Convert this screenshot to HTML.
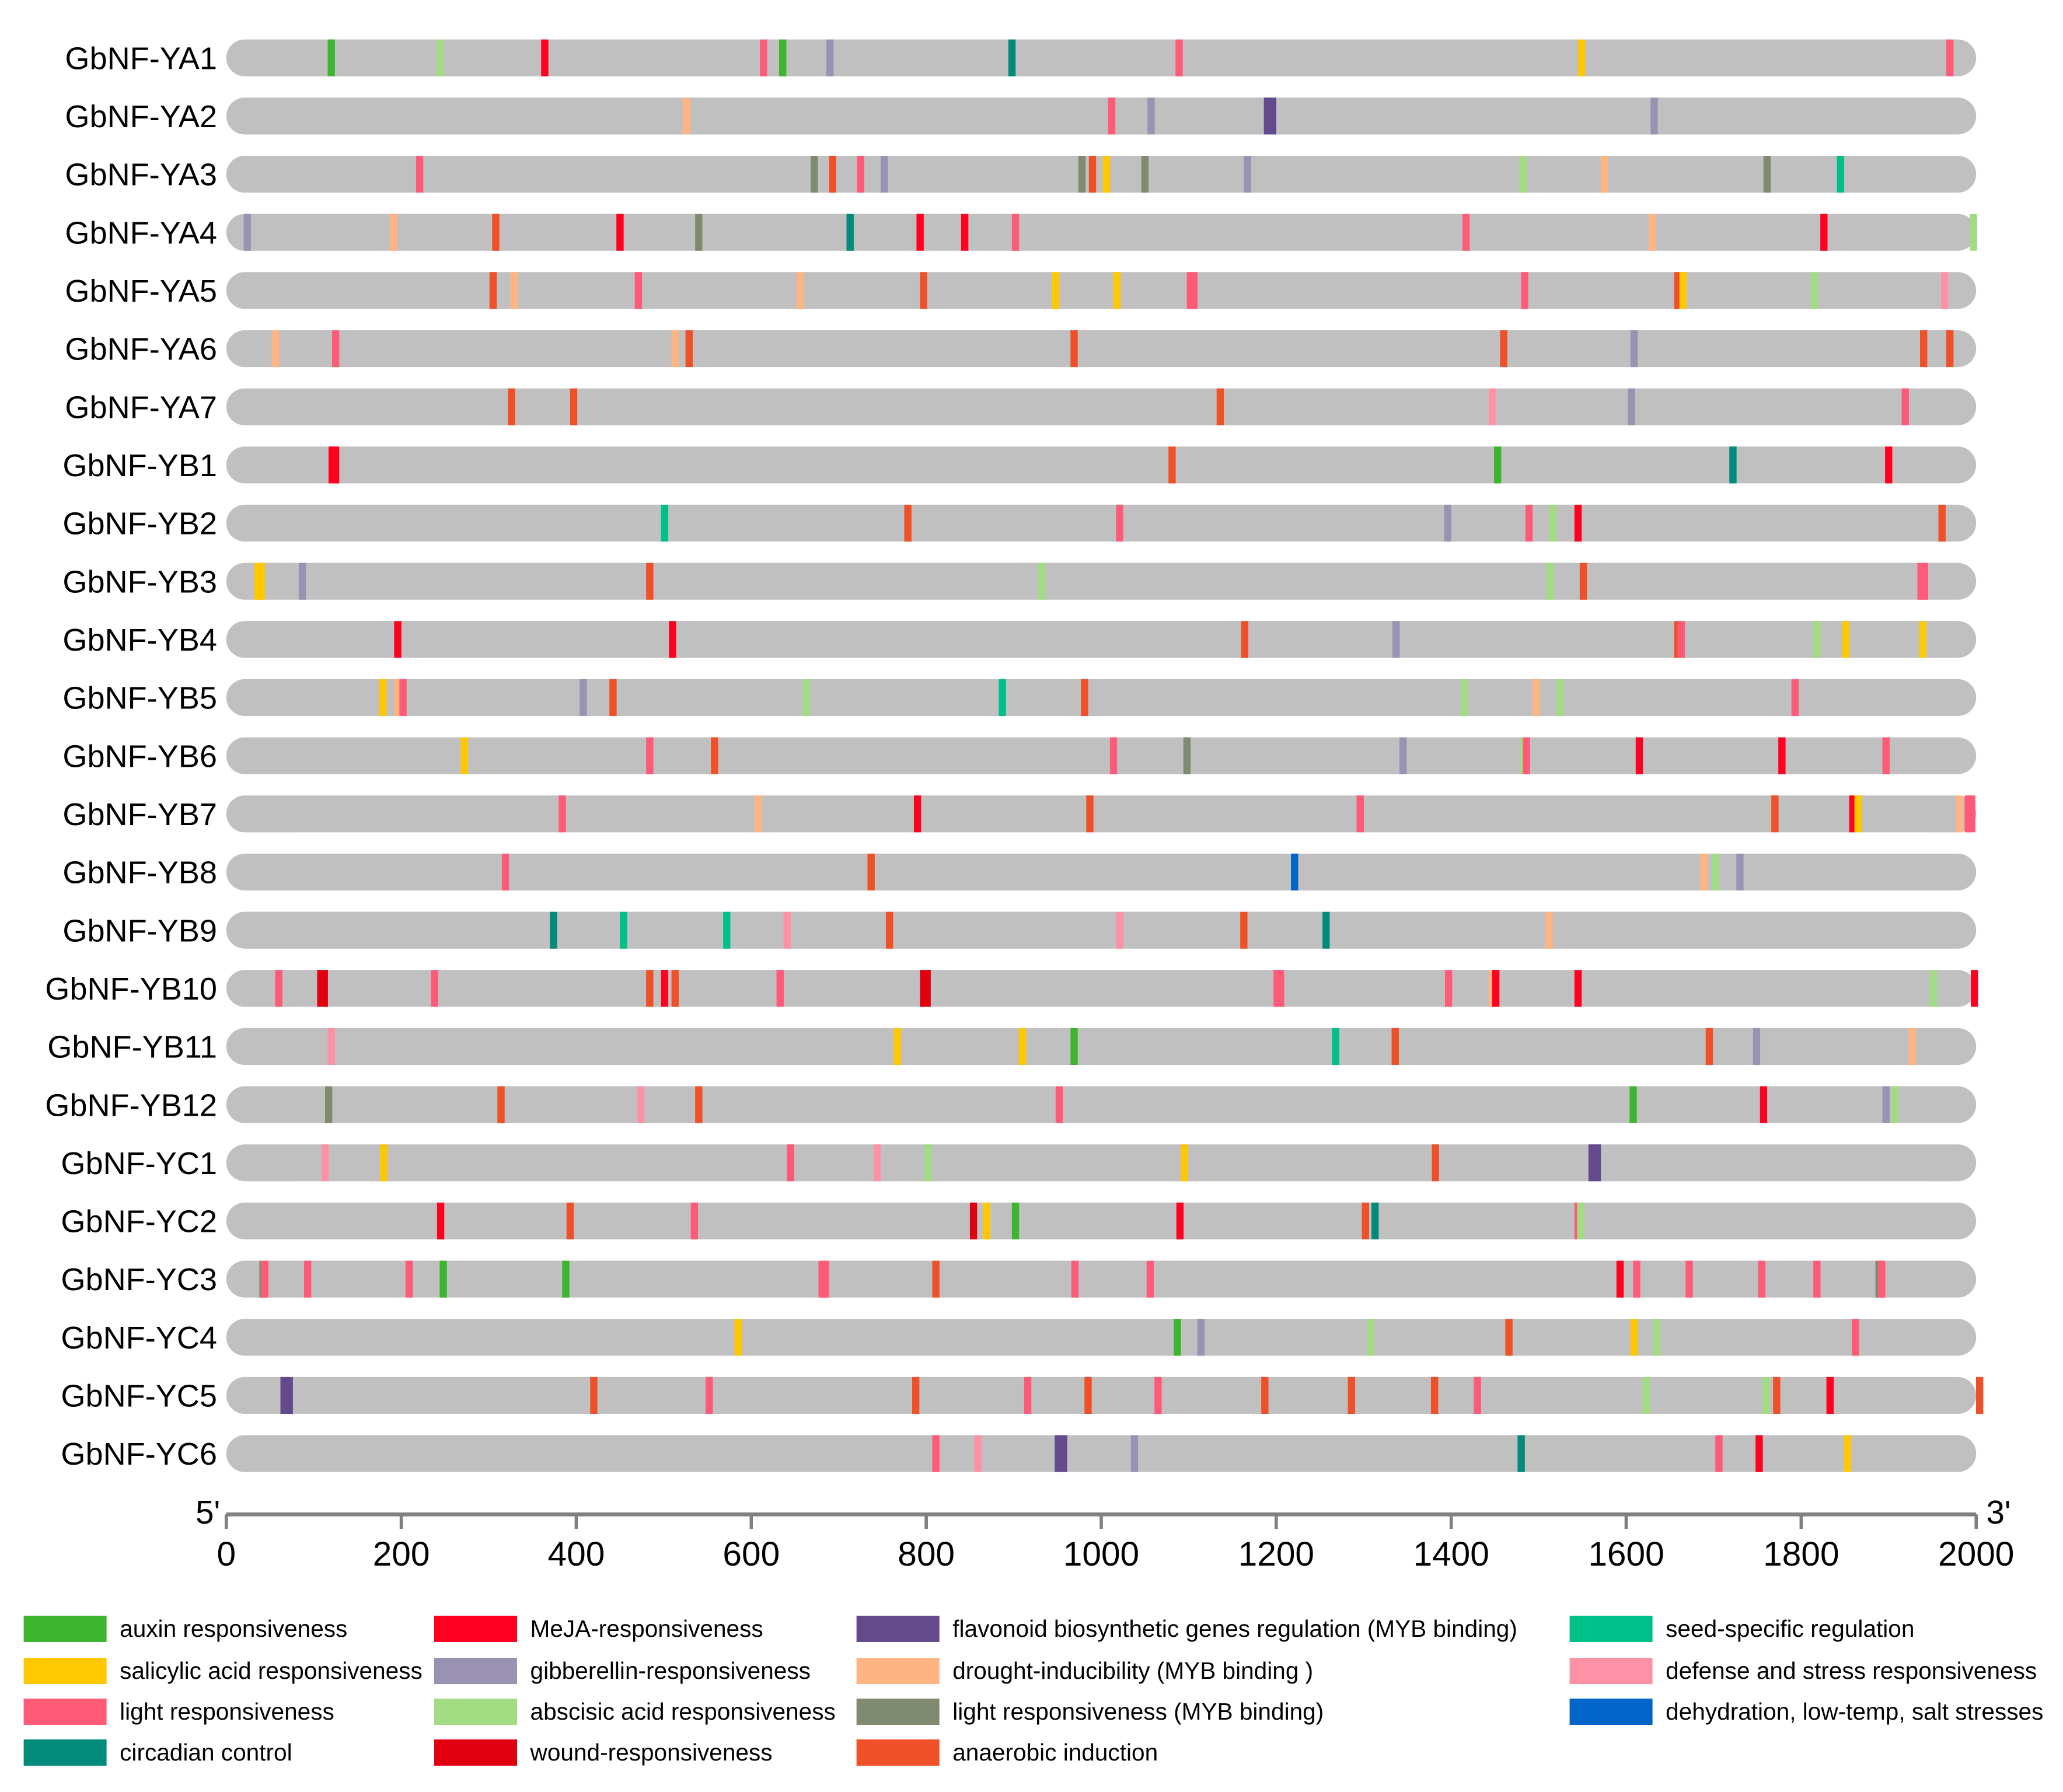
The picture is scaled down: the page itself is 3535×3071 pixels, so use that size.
<!DOCTYPE html>
<html><head><meta charset="utf-8">
<style>
html,body{margin:0;padding:0;background:#fff;}
svg{display:block;font-family:"Liberation Sans",Arial,sans-serif;}
</style></head>
<body>
<svg id="chart" width="3535" height="3071" viewBox="0 0 1568 1362" preserveAspectRatio="none" xmlns="http://www.w3.org/2000/svg">
<g id="rows"></g>
<g id="axis"></g>
<g id="legend"></g>
</svg>
<script>
const genes = ["GbNF-YA1","GbNF-YA2","GbNF-YA3","GbNF-YA4","GbNF-YA5","GbNF-YA6","GbNF-YA7","GbNF-YB1","GbNF-YB2","GbNF-YB3","GbNF-YB4","GbNF-YB5","GbNF-YB6","GbNF-YB7","GbNF-YB8","GbNF-YB9","GbNF-YB10","GbNF-YB11","GbNF-YB12","GbNF-YC1","GbNF-YC2","GbNF-YC3","GbNF-YC4","GbNF-YC5","GbNF-YC6"];
const typeKeys = ["a","s","l","c","m","g","b","w","f","d","y","n","e","p","h"];
const typeLabels = ["auxin responsiveness","salicylic acid responsiveness","light responsiveness","circadian control","MeJA-responsiveness","gibberellin-responsiveness","abscisic acid responsiveness","wound-responsiveness","flavonoid biosynthetic genes regulation (MYB binding)","drought-inducibility (MYB binding )","light responsiveness (MYB binding)","anaerobic induction","seed-specific regulation","defense and stress responsiveness","dehydration, low-temp, salt stresses"];
const typeColors = ["#3db52e","#ffc800","#ff5a78","#008b7a","#ff0020","#9a92b2","#a2dc82","#e00010","#624a8c","#ffb482","#808a70","#f05028","#00c08a","#ff91a6","#0064c8"];
const xTicks = [0,200,400,600,800,1000,1200,1400,1600,1800,2000];
const elements = [
[[120,"a"],[244,"b"],[364,"m"],[614,"l"],[636,"a"],[690,"g"],[898,"c"],[1089,"l"],[1549,"s"],[1970,"l"]],
[[526,"d"],[1012,"l"],[1057,"g"],[1190,"f"],[1196,"f"],[1632,"g"]],
[[221,"l"],[672,"y"],[693,"n"],[725,"l"],[752,"g"],[978,"y"],[990,"n"],[1006,"s"],[1050,"y"],[1167,"g"],[1482,"b"],[1575,"d"],[1761,"y"],[1845,"e"]],
[[24,"g"],[191,"d"],[308,"n"],[450,"m"],[540,"y"],[713,"c"],[793,"m"],[844,"m"],[902,"l"],[1417,"l"],[1630,"d"],[1826,"m"],[1997,"b"]],
[[305,"n"],[329,"d"],[471,"l"],[656,"d"],[797,"n"],[948,"s"],[1018,"s"],[1102,"l"],[1106,"l"],[1484,"l"],[1659,"n"],[1665,"s"],[1815,"b"],[1964,"p"]],
[[56,"d"],[125,"l"],[513,"d"],[529,"n"],[969,"n"],[1460,"n"],[1609,"g"],[1940,"n"],[1970,"n"]],
[[326,"n"],[397,"n"],[1136,"n"],[1447,"p"],[1606,"g"],[1919,"l"]],
[[121,"m"],[125,"m"],[1081,"n"],[1453,"a"],[1722,"c"],[1900,"m"]],
[[501,"e"],[779,"n"],[1021,"l"],[1396,"g"],[1489,"l"],[1516,"b"],[1545,"m"],[1961,"n"]],
[[36,"s"],[40,"s"],[87,"g"],[484,"n"],[932,"b"],[1513,"b"],[1551,"n"],[1937,"l"],[1941,"l"]],
[[196,"m"],[510,"m"],[1164,"n"],[1337,"g"],[1659,"n"],[1663,"l"],[1818,"b"],[1851,"s"],[1939,"s"]],
[[179,"s"],[196,"d"],[202,"l"],[408,"g"],[442,"n"],[663,"b"],[887,"e"],[981,"n"],[1415,"b"],[1497,"d"],[1524,"b"],[1793,"l"]],
[[272,"s"],[484,"l"],[558,"n"],[1014,"l"],[1098,"y"],[1345,"g"],[1483,"b"],[1486,"l"],[1615,"m"],[1778,"m"],[1897,"l"]],
[[384,"l"],[608,"d"],[790,"m"],[987,"n"],[1296,"l"],[1770,"n"],[1859,"m"],[1865,"s"],[1981,"d"],[1991,"l"],[1995,"l"]],
[[319,"l"],[737,"n"],[1221,"h"],[1689,"d"],[1702,"b"],[1730,"g"]],
[[374,"c"],[454,"e"],[572,"e"],[641,"p"],[758,"n"],[1021,"p"],[1163,"n"],[1257,"c"],[1512,"d"]],
[[60,"l"],[108,"w"],[112,"w"],[238,"l"],[484,"n"],[501,"m"],[513,"n"],[633,"l"],[797,"w"],[801,"w"],[1201,"l"],[1205,"l"],[1397,"l"],[1447,"d"],[1451,"m"],[1545,"m"],[1951,"b"],[1998,"m"]],
[[120,"p"],[767,"s"],[910,"s"],[969,"a"],[1268,"e"],[1336,"n"],[1695,"n"],[1749,"g"],[1927,"d"]],
[[117,"y"],[314,"n"],[474,"p"],[540,"n"],[952,"l"],[1608,"a"],[1757,"m"],[1897,"g"],[1907,"b"]],
[[113,"p"],[180,"s"],[645,"l"],[744,"p"],[802,"b"],[1095,"s"],[1382,"n"],[1561,"f"],[1567,"f"]],
[[245,"m"],[393,"n"],[535,"l"],[854,"w"],[869,"s"],[902,"a"],[1090,"m"],[1302,"n"],[1313,"c"],[1545,"l"],[1548,"b"]],
[[42,"y"],[44,"l"],[93,"l"],[209,"l"],[248,"a"],[388,"a"],[681,"l"],[685,"l"],[811,"n"],[970,"l"],[1056,"l"],[1593,"m"],[1612,"l"],[1672,"l"],[1755,"l"],[1818,"l"],[1889,"y"],[1892,"l"]],
[[585,"s"],[1087,"a"],[1114,"g"],[1308,"b"],[1466,"n"],[1609,"s"],[1635,"b"],[1862,"l"]],
[[66,"f"],[72,"f"],[420,"n"],[552,"l"],[788,"n"],[916,"l"],[985,"n"],[1065,"l"],[1187,"n"],[1286,"n"],[1381,"n"],[1430,"l"],[1623,"b"],[1760,"b"],[1772,"n"],[1833,"m"],[2004,"n"]],
[[811,"l"],[859,"p"],[951,"f"],[957,"f"],[1038,"g"],[1480,"c"],[1706,"l"],[1752,"m"],[1853,"s"]]
];
const NS="http://www.w3.org/2000/svg";
const X0=172, X1=1502, Y0=44, DY=44.2, BH=28, MW=5.5;
function xScale(v){return X0+(v/2000)*(X1-X0);}
function yScale(i){return Y0+i*DY;}
function mk(tag,attrs,parent){const e=document.createElementNS(NS,tag);for(const k in attrs)e.setAttribute(k,attrs[k]);parent.appendChild(e);return e;}
const rows=document.getElementById('rows');
genes.forEach((g,i)=>{
  const cy=yScale(i);
  const grp=mk('g',{},rows);
  
  
  const lab=mk('text',{x:165,y:cy+8.5,'text-anchor':'end','font-size':24,fill:'#000'},grp);
  lab.textContent=g;
  
  
  const bar=mk('rect',{x:X0,y:cy-BH/2,width:X1-X0,height:BH,rx:BH/2,fill:'#c0c0c0'},grp);
  
  
  elements[i].forEach(el=>{
    const ti=typeKeys.indexOf(el[1]);
    const r=mk('rect',{x:xScale(el[0])-MW/2,y:cy-BH/2,width:MW,height:BH,fill:typeColors[ti]},grp);
    
    
  });
});
const ax=document.getElementById('axis');
const axl=mk('line',{x1:X0,x2:X1,y1:1151,y2:1151,stroke:'#808080','stroke-width':3},ax);


xTicks.forEach(t=>{
  const x=xScale(t);
  const tk=mk('line',{x1:x,x2:x,y1:1151,y2:1162,stroke:'#808080','stroke-width':2.5},ax);
  
  
  const tl=mk('text',{x:x,y:1190,'text-anchor':'middle','font-size':26,fill:'#000'},ax);
  tl.textContent=t;
  
  
});
const p5=mk('text',{x:158,y:1158,'text-anchor':'middle','font-size':25,fill:'#000'},ax);
p5.textContent="5'";


const p3=mk('text',{x:1519,y:1158,'text-anchor':'middle','font-size':25,fill:'#000'},ax);
p3.textContent="3'";


const leg=document.getElementById('legend');
const colX=[18,330,651,1193];
const rowY=[1228,1260,1291,1322];
typeLabels.forEach((lb,i)=>{
  const c=Math.floor(i/4), r=i%4;
  const g=mk('g',{},leg);
  
  
  mk('rect',{x:colX[c],y:rowY[r],width:63,height:20,fill:typeColors[i]},g);
  const t=mk('text',{x:colX[c]+73,y:rowY[r]+16,'font-size':18,fill:'#000'},g);
  t.textContent=lb;
});
</script>
</body></html>
